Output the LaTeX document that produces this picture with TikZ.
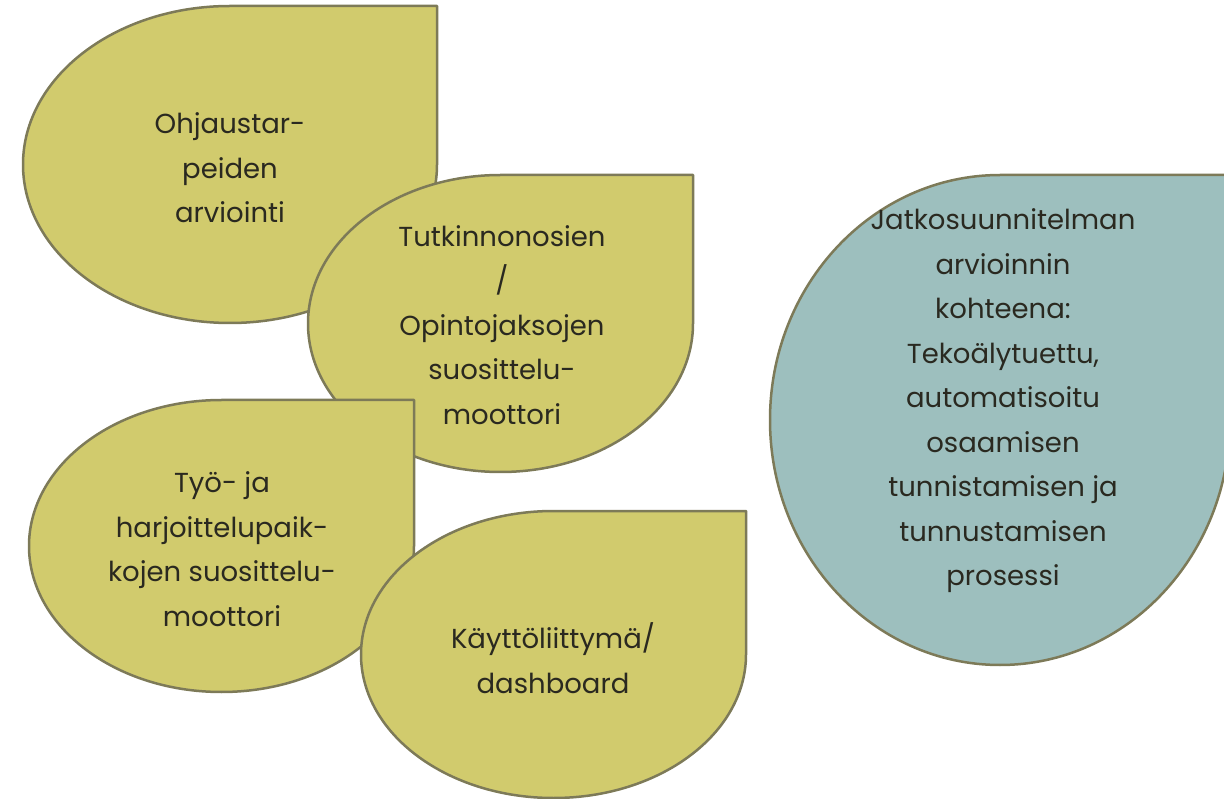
\documentclass[tikz,border=0pt]{standalone}
\usepackage{fontspec}
\setmainfont{Poppins}
\definecolor{olivefill}{HTML}{D1CB6D}
\definecolor{tealfill}{HTML}{9DBFBE}
\definecolor{edgecol}{HTML}{7D7A58}
\definecolor{txtcol}{HTML}{2A2920}
\tikzset{
  dropshape/.style={draw=edgecol, line width=2.5pt, line join=round},
  droplabel/.style={align=center, text=txtcol, font=\fontsize{27.5}{44.5}\selectfont, inner sep=0pt}
}
% \teardrop{cx}{cy}{rx}{ry}{fill}
\newcommand{\teardrop}[5]{%
  \draw[dropshape, fill=#5] (#1,#2-#4) -- (#1+#3,#2-#4) -- (#1+#3,#2) arc[start angle=0, end angle=270, x radius=#3, y radius=#4] -- cycle;}
\begin{document}
\begin{tikzpicture}[x=1pt,y=-1pt]
\useasboundingbox (0,0) rectangle (1224,799);
\teardrop{230}{164.5}{207}{158.5}{olivefill}
\node[droplabel] (n1) at (230,168) {Ohjaustar-\\peiden\\arviointi};
\teardrop{500.5}{323.5}{192.5}{148.5}{olivefill}
\node[droplabel] (n2) at (502,325) {Tutkinnonosien\\/\\Opintojaksojen\\suosittelu-\\moottori};
\teardrop{221.5}{546}{192.5}{146}{olivefill}
\node[droplabel] (n3) at (222,549) {Työ- ja\\harjoittelupaik-\\kojen suosittelu-\\moottori};
\teardrop{553.5}{654.5}{192.5}{143.5}{olivefill}
\node[droplabel] (n4) at (553,658) {Käyttöliittymä/\\dashboard};
\teardrop{1000}{420}{230}{245}{tealfill}
\node[droplabel] (n5) at (1003,401) {Jatkosuunnitelman\\arvioinnin\\kohteena:\\Tekoälytuettu,\\automatisoitu\\osaamisen\\tunnistamisen ja\\tunnustamisen\\prosessi};
\end{tikzpicture}
\end{document}
